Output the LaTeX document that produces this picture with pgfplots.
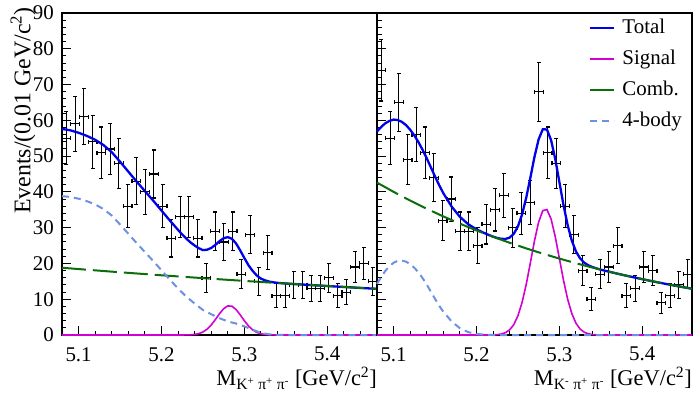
\documentclass[border=0pt]{standalone}
\usepackage{fontspec}
\setmainfont{Liberation Serif}
\usepackage{pgfplots}
\usepackage{pgfplotstable}
\pgfplotsset{compat=1.18}

\definecolor{cTot}{RGB}{0,0,235}
\definecolor{cSig}{RGB}{210,0,210}
\definecolor{cComb}{RGB}{10,110,10}
\definecolor{cFour}{RGB}{110,145,225}

\pgfplotstableread{
x y ey
5.0853 55 7.42
5.0958 59 7.68
5.1064 61 7.81
5.1169 54 7.35
5.1275 51 7.14
5.1381 52 7.21
5.1486 48 6.93
5.1592 36 6.00
5.1697 43 6.56
5.1803 40 6.32
5.1908 45 6.71
5.2014 36 6.00
5.2119 27 5.20
5.2225 33 5.74
5.2331 33 5.74
5.2436 27 5.20
5.2542 16 4.00
5.2647 29 5.39
5.2753 26 5.10
5.2858 29 5.39
5.2964 17 4.12
5.3069 28 5.29
5.3175 15 3.87
5.3281 23 4.80
5.3386 11 3.32
5.3492 11 3.32
5.3597 14 3.74
5.3703 14 3.74
5.3808 13 3.61
5.3914 13 3.61
5.4019 16 4.00
5.4125 11 3.32
5.4231 12 3.46
5.4336 19 4.36
5.4442 20 4.47
5.4547 15 3.87
}\ldata

\pgfplotstableread{
x y ey
5.0853 74 8.60
5.0958 55 7.42
5.1064 65 8.06
5.1169 49 7.00
5.1275 56 7.48
5.1381 51 7.14
5.1486 44 6.63
5.1592 32 5.66
5.1697 38 6.16
5.1803 29 5.39
5.1908 29 5.39
5.2014 25 5.00
5.2119 31 5.57
5.2225 35 5.92
5.2331 39 6.24
5.2436 30 5.48
5.2542 34 5.83
5.2647 37 6.08
5.2753 68 8.25
5.2858 51 7.14
5.2964 48 6.93
5.3069 36 6.00
5.3175 28 5.29
5.3281 18 4.24
5.3386 10 3.16
5.3492 17 4.12
5.3597 19 4.36
5.3703 25 5.00
5.3808 11 3.32
5.3914 13 3.61
5.4019 19 4.36
5.4125 18 4.24
5.4231 9 3.00
5.4336 11 3.32
5.4442 14 3.74
5.4547 17 4.12
}\rdata

\pgfplotstableread{
x y
5.08 57.60
5.09 57.21
5.10 56.53
5.11 55.65
5.12 54.57
5.13 53.09
5.14 51.11
5.15 48.44
5.16 45.67
5.17 42.90
5.18 40.23
5.19 37.56
5.20 34.79
5.21 32.03
5.22 29.37
5.225 28.09
5.23 26.92
5.235 25.89
5.24 25.01
5.245 24.26
5.25 23.73
5.255 23.83
5.26 24.33
5.265 25.17
5.27 26.23
5.275 27.05
5.28 27.35
5.285 26.89
5.29 25.58
5.295 23.63
5.30 21.51
5.305 19.48
5.31 17.91
5.315 16.63
5.32 15.75
5.325 15.28
5.33 14.93
5.335 14.73
5.34 14.58
5.35 14.39
5.36 14.25
5.37 14.11
5.38 13.97
5.39 13.83
5.40 13.69
5.41 13.56
5.42 13.43
5.43 13.29
5.44 13.16
5.45 13.03
5.46 12.90
}\ltot

\pgfplotstableread{
x y
5.08 0
5.22 0
5.225 0.01
5.23 0.02
5.235 0.06
5.24 0.16
5.245 0.39
5.25 0.84
5.255 1.62
5.26 2.80
5.265 4.31
5.27 5.95
5.275 7.35
5.28 8.13
5.285 8.04
5.29 7.11
5.295 5.63
5.30 3.99
5.305 2.53
5.31 1.44
5.315 0.73
5.32 0.33
5.325 0.13
5.33 0.05
5.335 0.02
5.34 0
5.46 0
}\lsig

\pgfplotstableread{
x y
5.08 18.80
5.10 18.43
5.12 18.07
5.14 17.71
5.16 17.37
5.18 17.03
5.20 16.69
5.22 16.37
5.24 16.05
5.26 15.73
5.28 15.42
5.30 15.12
5.32 14.82
5.34 14.53
5.36 14.25
5.38 13.97
5.40 13.69
5.42 13.43
5.44 13.16
5.46 12.90
}\lcomb

\pgfplotstableread{
x y
5.08 38.8
5.09 38.6
5.10 38.1
5.11 37.4
5.12 36.5
5.13 35.2
5.14 33.4
5.15 30.9
5.16 28.3
5.17 25.7
5.18 23.2
5.19 20.7
5.20 18.1
5.21 15.5
5.22 13.0
5.23 10.7
5.24 8.8
5.25 7.0
5.26 5.8
5.27 4.7
5.28 3.8
5.29 3.2
5.30 2.4
5.31 1.5
5.32 0.6
5.33 0.2
5.34 0.05
5.35 0
5.46 0
}\lfour

\pgfplotstableread{
x y
5.08 56.90
5.085 58.14
5.09 59.18
5.095 59.84
5.10 60.21
5.105 60.09
5.11 59.57
5.115 58.67
5.12 57.37
5.125 55.79
5.13 53.91
5.135 51.75
5.14 49.39
5.145 46.84
5.15 44.30
5.155 41.87
5.16 39.64
5.17 35.91
5.18 33.02
5.19 30.96
5.20 29.53
5.21 28.43
5.215 27.95
5.22 27.49
5.225 27.12
5.23 26.87
5.235 26.85
5.24 27.22
5.245 28.28
5.25 30.35
5.255 33.68
5.26 38.34
5.265 43.98
5.27 49.81
5.275 54.70
5.28 57.50
5.285 57.45
5.29 54.47
5.295 49.22
5.30 42.77
5.305 36.31
5.31 30.70
5.315 26.38
5.32 23.36
5.325 21.42
5.33 20.21
5.335 19.47
5.34 18.97
5.345 18.59
5.35 18.26
5.36 17.69
5.37 17.14
5.38 16.62
5.39 16.10
5.40 15.61
5.41 15.12
5.42 14.66
5.43 14.20
5.44 13.76
5.45 13.34
5.46 12.93
}\rtot

\pgfplotstableread{
x y
5.08 0
5.21 0
5.215 0.01
5.22 0.04
5.225 0.10
5.23 0.27
5.235 0.66
5.24 1.44
5.245 2.90
5.25 5.37
5.255 9.09
5.26 14.13
5.265 20.15
5.27 26.35
5.275 31.60
5.28 34.76
5.285 35.06
5.29 32.43
5.295 27.52
5.30 21.41
5.305 15.28
5.31 10.00
5.315 6.00
5.32 3.30
5.325 1.67
5.33 0.77
5.335 0.33
5.34 0.13
5.345 0.05
5.35 0.01
5.355 0
5.46 0
}\rsig

\pgfplotstableread{
x y
5.08 42.60
5.10 40.01
5.12 37.57
5.14 35.29
5.16 33.14
5.18 31.12
5.20 29.23
5.22 27.45
5.24 25.78
5.26 24.21
5.28 22.74
5.30 21.36
5.32 20.06
5.34 18.84
5.36 17.69
5.38 16.62
5.40 15.61
5.42 14.66
5.44 13.76
5.46 12.93
}\rcomb

\pgfplotstableread{
x y
5.08 14.3
5.085 16.2
5.09 17.9
5.095 19.2
5.10 20.2
5.105 20.7
5.11 20.8
5.115 20.5
5.12 19.8
5.125 18.8
5.13 17.5
5.135 15.9
5.14 14.1
5.145 12.1
5.15 10.1
5.155 8.2
5.16 6.5
5.17 3.8
5.18 1.9
5.19 0.8
5.20 0.3
5.21 0.1
5.22 0
5.46 0
}\rfour

\pgfplotsset{
  common/.style={
    scale only axis, width=315bp, height=322bp,
    xmin=5.08, xmax=5.46, ymin=0, ymax=90,
    xtick={5.1,5.2,5.3,5.4},
    minor xtick={5.08,5.10,...,5.46},
    ytick={0,10,...,90},
    minor ytick={0,2,...,90},
    xtick pos=left, ytick pos=left,
    tick align=inside,
    major tick length=9bp, minor tick length=4.5bp,
    tick style={black, line width=1bp},
    axis line style={black, line width=1.2bp},
    /pgf/number format/assume math mode=true,
    xticklabel style={font=\fontsize{21}{25}\selectfont, inner sep=0pt, yshift=-12bp,
      /pgf/number format/fixed, /pgf/number format/precision=1},
    yticklabel style={font=\fontsize{21}{25}\selectfont, inner sep=0pt, xshift=-8bp},
    xlabel style={at={(axis description cs:1,0)}, anchor=base east, inner sep=0pt,
      yshift=-50bp, font=\fontsize{22.5}{27}\selectfont},
    clip=false,
  },
  databars/.style={forget plot, only marks, mark=*, mark size=0.4bp, black,
    error bars/.cd, x dir=both, x fixed=0.00528, y dir=both, y explicit,
    error bar style={black, line width=1.1bp, solid},
    error mark options={rotate=90, black, mark size=2bp, line width=1.1bp}},
  tot/.style={cTot, line width=2.3bp, solid},
  sig/.style={cSig, line width=1.6bp, solid},
  comb/.style={cComb, line width=2bp, dash pattern=on 24bp off 7bp},
  four/.style={cFour, line width=2bp, dash pattern=on 7bp off 5bp},
}

\begin{document}
\begin{tikzpicture}
\path[use as bounding box] (-62bp,-83bp) rectangle (634bp,335bp);

\begin{axis}[common, at={(0bp,0bp)}, anchor=south west,
  ylabel={Events/(0.01 GeV/c\textsuperscript{2})},
  ylabel style={at={(axis description cs:-0.1238,1.0186)}, anchor=east, inner sep=0pt,
    font=\fontsize{24}{28}\selectfont},
  xlabel={M\textsubscript{K\textsuperscript{+} π\textsuperscript{+} π\textsuperscript{-}} [GeV/c\textsuperscript{2}]},
]
\addplot[databars] table[x=x, y=y, y error=ey] {\ldata};
\addplot[tot] table[x=x, y=y] {\ltot};
\addplot[sig] table[x=x, y=y] {\lsig};
\addplot[comb] table[x=x, y=y] {\lcomb};
\addplot[four] table[x=x, y=y] {\lfour};
\end{axis}

\begin{axis}[common, at={(315bp,0bp)}, anchor=south west,
  yticklabels={},
  xlabel={M\textsubscript{K\textsuperscript{-} π\textsuperscript{+} π\textsuperscript{-}} [GeV/c\textsuperscript{2}]},
  legend style={draw=none, fill=none, inner sep=0pt, at={(axis description cs:0.673,0.988)},
    anchor=north west, font=\fontsize{21}{25}\selectfont, row sep=9bp, column sep=6bp,
    nodes={text height=15bp, text depth=5bp, inner sep=1bp}},
  legend cell align=left,
  legend image code/.code={\draw[#1] (0bp,0bp) -- (24bp,0bp);},
]
\addplot[databars] table[x=x, y=y, y error=ey] {\rdata};
\addplot[tot] table[x=x, y=y] {\rtot};
\addlegendentry{Total}
\addplot[sig] table[x=x, y=y] {\rsig};
\addlegendentry{Signal}
\addplot[comb, legend image post style={solid}] table[x=x, y=y] {\rcomb};
\addlegendentry{Comb.}
\addplot[four] table[x=x, y=y] {\rfour};
\addlegendentry{4-body}
\end{axis}
\end{tikzpicture}
\end{document}
